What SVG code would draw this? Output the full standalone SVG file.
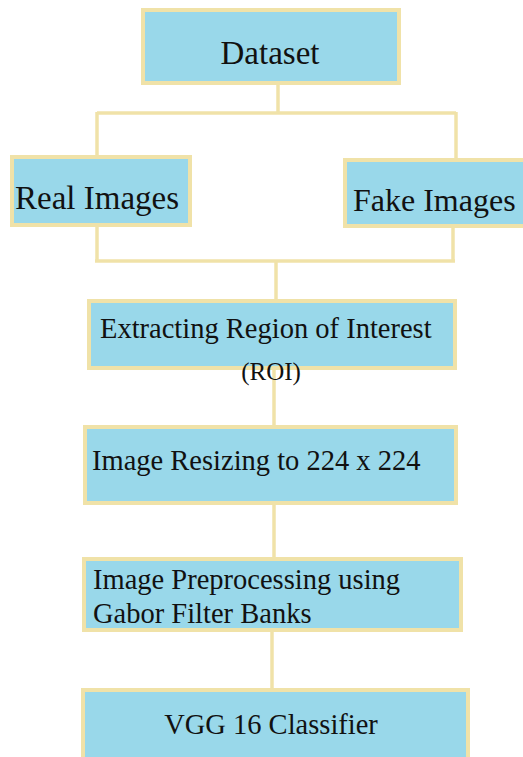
<svg xmlns="http://www.w3.org/2000/svg" width="523" height="757" viewBox="0 0 523 757">
  <style>
    .box { fill: #99d8ea; stroke: #f0e2a8; stroke-width: 4; }
    .wire { fill: none; stroke: #f0e2a8; stroke-width: 3.5; stroke-linecap: butt; }
    .lbl { fill: #111; font-family: "Liberation Serif", "Times New Roman", serif; }
    .big { font-size: 33px; }
    .mid { font-size: 33px; }
    .std { font-size: 28.5px; }
  </style>
  <rect width="523" height="757" fill="#ffffff"/>

  <!-- connectors -->
  <g id="connectors">
    <path class="wire" d="M278 85 V113"/>
    <path class="wire" d="M97 113 H456"/>
    <path class="wire" d="M97 112 V155"/>
    <path class="wire" d="M456 112 V158"/>
    <path class="wire" d="M97 227 V261"/>
    <path class="wire" d="M453 228 V261"/>
    <path class="wire" d="M95 261 H455"/>
    <path class="wire" d="M276 261 V299"/>
    <path class="wire" d="M274 370 V425"/>
    <path class="wire" d="M274 505 V557"/>
    <path class="wire" d="M272 632 V688"/>
  </g>

  <g id="dataset">
    <rect class="box" x="143" y="10" width="256" height="73"/>
    <text class="lbl big" x="270" y="64" text-anchor="middle">Dataset</text>
  </g>

  <g id="real-images">
    <rect class="box" x="12" y="157" width="178" height="68"/>
    <text class="lbl mid" x="15" y="209">Real Images</text>
  </g>

  <g id="fake-images">
    <rect class="box" x="345" y="160" width="190" height="66"/>
    <text class="lbl" x="353" y="211" font-size="32">Fake Images</text>
  </g>

  <g id="roi">
    <rect class="box" x="89" y="301" width="366" height="67"/>
    <text class="lbl std" x="100" y="338">Extracting Region of Interest</text>
    <text class="lbl" x="271" y="380" text-anchor="middle" font-size="25">(ROI)</text>
  </g>

  <g id="resize">
    <rect class="box" x="85" y="427" width="371" height="76"/>
    <text class="lbl std" x="92" y="470">Image Resizing to 224 x 224</text>
  </g>

  <g id="gabor">
    <rect class="box" x="84" y="559" width="377" height="71"/>
    <text class="lbl std" x="93" y="589">Image Preprocessing using</text>
    <text class="lbl std" x="93" y="623">Gabor Filter Banks</text>
  </g>

  <g id="vgg">
    <rect class="box" x="83" y="690" width="385" height="80"/>
    <text class="lbl std" x="271" y="734" text-anchor="middle">VGG 16 Classifier</text>
  </g>
</svg>
